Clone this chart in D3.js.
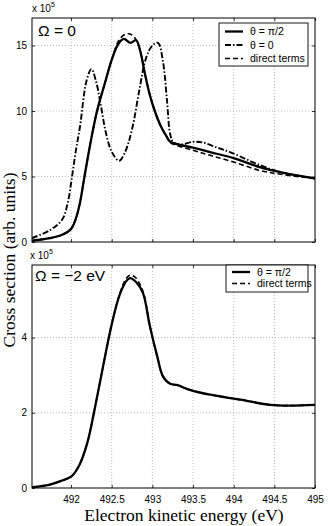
<!DOCTYPE html>
<html>
<head>
<meta charset="utf-8">
<script src="https://cdn.jsdelivr.net/npm/d3@7"></script>
<style>
  body { margin: 0; background: #fff; }
  svg { display: block; }
  .tick text { font-family: "Liberation Sans", Arial, sans-serif; font-size: 10px; }
</style>
</head>
<body>
<svg id="chart" width="331" height="526"></svg>
<script>
// x ticks (eV)
const X_TICKS = [492, 492.5, 493, 493.5, 494, 494.5, 495];
const TOP_Y_TICKS = [0, 5, 10, 15];
const BOT_Y_TICKS = [0, 2, 4];

// Omega = 0 panel, theta = pi/2
const topPerpE = [491.52, 491.74, 491.89, 492.0, 492.06, 492.11, 492.16, 492.24, 492.32, 492.42, 492.5, 492.58, 492.65, 492.73, 492.8, 492.85, 492.91, 492.97, 493.03, 493.1, 493.18, 493.22, 493.5, 493.72, 494.0, 494.33, 494.6, 495];
const topPerpV = [0.1, 0.3, 0.55, 1.0, 1.8, 3.0, 4.8, 7.6, 10.0, 12.2, 13.9, 15.1, 15.5, 15.2, 15.4, 14.6, 12.8, 11.2, 10.0, 8.9, 8.0, 7.65, 7.2, 6.85, 6.4, 5.7, 5.3, 4.85];

// Omega = 0 panel, theta = 0
const topParE = [491.52, 491.74, 491.89, 491.96, 492.01, 492.06, 492.11, 492.19, 492.25, 492.31, 492.37, 492.43, 492.5, 492.59, 492.66, 492.75, 492.84, 492.92, 493.0, 493.07, 493.13, 493.18, 493.22, 493.26, 493.35, 493.5, 493.62, 493.8, 493.96, 494.33, 494.6, 495];
const topParV = [0.3, 0.9, 1.7, 3.0, 4.9, 7.0, 8.8, 12.3, 13.2, 12.2, 10.3, 8.3, 6.9, 6.2, 6.8, 8.6, 11.6, 14.0, 15.0, 15.2, 13.8, 10.8, 8.2, 7.6, 7.45, 7.65, 7.6, 7.2, 6.85, 5.85, 5.3, 4.85];

// Omega = 0 panel, direct terms
const topDirE = [491.52, 491.74, 491.89, 492.0, 492.06, 492.11, 492.16, 492.24, 492.32, 492.42, 492.5, 492.58, 492.65, 492.71, 492.77, 492.83, 492.88, 492.91, 492.97, 493.03, 493.1, 493.18, 493.22, 493.5, 493.72, 494.0, 494.33, 494.6, 495];
const topDirV = [0.1, 0.3, 0.55, 1.0, 1.8, 3.0, 4.8, 7.6, 10.0, 12.2, 13.9, 15.3, 15.8, 15.9, 15.7, 15.0, 13.8, 12.8, 11.2, 10.0, 8.9, 8.0, 7.6, 7.0, 6.6, 6.1, 5.45, 5.15, 4.85];

// Omega = -2 eV panel, theta = pi/2
const botPerpE = [491.52, 491.74, 491.89, 492.0, 492.1, 492.2, 492.3, 492.4, 492.5, 492.6, 492.69, 492.73, 492.81, 492.885, 492.97, 493.06, 493.13, 493.22, 493.3, 493.46, 493.71, 494.08, 494.45, 494.69, 495];
const botPerpV = [0.02, 0.09, 0.2, 0.3, 0.6, 1.2, 2.2, 3.3, 4.35, 5.15, 5.53, 5.58, 5.45, 5.18, 4.3, 3.5, 2.97, 2.77, 2.74, 2.61, 2.48, 2.35, 2.21, 2.19, 2.21];

// Omega = -2 eV panel, direct terms
const botDirE = [491.52, 491.74, 491.89, 492.0, 492.1, 492.2, 492.3, 492.4, 492.5, 492.6, 492.68, 492.73, 492.78, 492.84, 492.9, 492.97, 493.06, 493.13, 493.22, 493.3, 493.46, 493.71, 494.08, 494.45, 494.69, 495];
const botDirV = [0.02, 0.09, 0.2, 0.3, 0.6, 1.2, 2.2, 3.3, 4.35, 5.17, 5.58, 5.66, 5.62, 5.45, 5.12, 4.3, 3.5, 2.97, 2.77, 2.74, 2.61, 2.48, 2.35, 2.21, 2.19, 2.21];

const zip = (xs, ys) => xs.map((x, i) => [x, ys[i]]);

const STYLES = {
  solid: { width: 2.3, dash: null },
  dashdot: { width: 1.9, dash: "6,2,1.5,2" },
  dashed: { width: 1.6, dash: "5,3" }
};

const svg = d3.select("#chart");
const x = d3.scaleLinear().domain([491.52, 495]).range([32, 315]);

function drawPanel(opts) {
  const y = d3.scaleLinear().domain(opts.yDomain).range([opts.bottom, opts.top]);
  const g = svg.append("g");

  // grid
  g.selectAll(".vgrid").data(X_TICKS.filter(t => t < 495)).enter().append("line")
    .attr("x1", d => x(d)).attr("x2", d => x(d))
    .attr("y1", opts.top).attr("y2", opts.bottom)
    .attr("stroke", "#aaa").attr("stroke-width", 0.8).attr("stroke-dasharray", "1,2");
  g.selectAll(".hgrid").data(opts.yTicks.filter(t => t > 0)).enter().append("line")
    .attr("x1", 32).attr("x2", 315)
    .attr("y1", d => y(d)).attr("y2", d => y(d))
    .attr("stroke", "#aaa").attr("stroke-width", 0.8).attr("stroke-dasharray", "1,2");

  // axes: ticks inward, matlab style
  const left = g.append("g").attr("transform", `translate(32,0)`)
    .call(d3.axisLeft(y).tickValues(opts.yTicks).tickSize(-3).tickPadding(5).tickFormat(d3.format("d")));
  const right = g.append("g").attr("transform", `translate(315,0)`)
    .call(d3.axisRight(y).tickValues(opts.yTicks).tickSize(-3).tickFormat(""));
  const bottom = g.append("g").attr("transform", `translate(0,${opts.bottom})`)
    .call(d3.axisBottom(x).tickValues(X_TICKS).tickSize(-3).tickPadding(8)
      .tickFormat(opts.xLabels ? d => String(d) : ""));
  const top = g.append("g").attr("transform", `translate(0,${opts.top})`)
    .call(d3.axisTop(x).tickValues(X_TICKS).tickSize(-3).tickFormat(""));
  [left, right, bottom, top].forEach(a => {
    a.select(".domain").remove();
    a.selectAll(".tick line").attr("stroke", "#000").attr("stroke-width", 0.8);
  });
  left.selectAll(".tick text").attr("font-size", 10.5);
  bottom.selectAll(".tick text").attr("font-size", 10.5);

  // clip
  const clipId = "clip" + opts.top;
  svg.append("clipPath").attr("id", clipId).append("rect")
    .attr("x", 32).attr("y", opts.top).attr("width", 283).attr("height", opts.bottom - opts.top);

  const line = d3.line().x(d => x(d[0])).y(d => y(d[1])).curve(d3.curveCatmullRom.alpha(0.5));
  const lines = g.append("g").attr("clip-path", `url(#${clipId})`);
  opts.series.forEach(s => {
    const st = STYLES[s.style];
    lines.append("path")
      .datum(zip(s.e, s.v))
      .attr("d", line)
      .attr("fill", "none")
      .attr("stroke", "#000")
      .attr("stroke-width", st.width)
      .attr("stroke-dasharray", st.dash)
      .attr("stroke-linejoin", "round");
  });

  // frame
  g.append("rect").attr("x", 32).attr("y", opts.top).attr("width", 283)
    .attr("height", opts.bottom - opts.top)
    .attr("fill", "none").attr("stroke", "#000").attr("stroke-width", 1);

  // x 10^5
  const ex = g.append("text").attr("x", opts.expX).attr("y", opts.top - 6)
    .attr("font-family", "Liberation Sans, Arial, sans-serif").attr("font-size", 10);
  ex.append("tspan").text("x 10");
  ex.append("tspan").attr("font-size", 7).attr("dy", -5).text("5");

  // panel label
  g.append("text").attr("x", opts.titleX).attr("y", opts.titleY)
    .attr("font-family", "Liberation Sans, Arial, sans-serif").attr("font-size", 15.5)
    .text(opts.title);

  // legend
  const L = opts.legend;
  g.append("rect").attr("x", L.x).attr("y", L.y).attr("width", L.w).attr("height", L.h)
    .attr("fill", "#fff").attr("stroke", "#000").attr("stroke-width", 0.9);
  opts.series.forEach((s, i) => {
    const st = STYLES[s.style];
    const yy = L.y + L.first + i * L.step;
    g.append("line").attr("x1", L.x + 6).attr("x2", L.x + 24)
      .attr("y1", yy).attr("y2", yy)
      .attr("stroke", "#000").attr("stroke-width", st.width)
      .attr("stroke-dasharray", st.dash);
    g.append("text").attr("x", L.x + 31).attr("y", yy + 3.6)
      .attr("font-family", "Liberation Sans, Arial, sans-serif").attr("font-size", 10.5)
      .text(s.name);
  });
}

drawPanel({
  top: 18, bottom: 242, yDomain: [0, 17.1], yTicks: TOP_Y_TICKS, xLabels: false,
  expX: 32, title: "Ω = 0", titleX: 38, titleY: 36,
  legend: { x: 219, y: 23, w: 89, h: 43, first: 8.5, step: 13.5 },
  series: [
    { name: "θ = π/2", style: "solid", e: topPerpE, v: topPerpV },
    { name: "θ = 0", style: "dashdot", e: topParE, v: topParV },
    { name: "direct terms", style: "dashed", e: topDirE, v: topDirV }
  ]
});

drawPanel({
  top: 265, bottom: 488, yDomain: [0, 5.93], yTicks: BOT_Y_TICKS, xLabels: true,
  expX: 30, title: "Ω = −2 eV", titleX: 35, titleY: 281,
  legend: { x: 226, y: 265, w: 82, h: 27, first: 7, step: 11.5 },
  series: [
    { name: "θ = π/2", style: "solid", e: botPerpE, v: botPerpV },
    { name: "direct terms", style: "dashed", e: botDirE, v: botDirV }
  ]
});

// axis titles
svg.append("text")
  .attr("transform", "translate(15,260) rotate(-90)")
  .attr("text-anchor", "middle")
  .attr("font-family", "Liberation Serif, Times New Roman, serif").attr("font-size", 17.5)
  .text("Cross section (arb. units)");
svg.append("text")
  .attr("x", 184).attr("y", 521)
  .attr("text-anchor", "middle")
  .attr("font-family", "Liberation Serif, Times New Roman, serif").attr("font-size", 17.5)
  .text("Electron kinetic energy (eV)");
</script>
</body>
</html>
